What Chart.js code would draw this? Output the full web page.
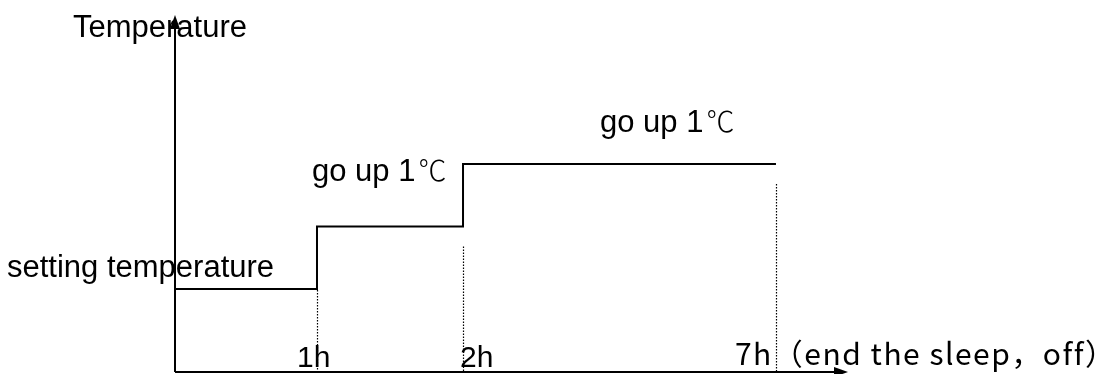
<!DOCTYPE html>
<html>
<head>
<meta charset="utf-8">
<script src="https://cdn.jsdelivr.net/npm/chart.js@4.4.0/dist/chart.umd.min.js"></script>
<style>
  html, body { margin: 0; padding: 0; background: #fff; }
  #wrap { width: 1101px; height: 374px; }
</style>
</head>
<body>
<div id="wrap"><canvas id="sleepChart" width="1101" height="374"></canvas></div>
<script>
// Sleep mode: +1℃ after the first hour, +1℃ after the second, held until 7h
const hours = [0, 1, 2, 7];
const tempRise = [0, 1, 2, 2];
const tickHours = [1, 2, 7];
const tickLabels = ['1h', '2h', '7h（end the sleep，off）'];
const stepLabels = ['go up 1', 'go up 1'];
const degreeSign = '℃';
const axisTitle = 'Temperature';
const baseLabel = 'setting temperature';

const LATIN = '"Liberation Sans", Arial, sans-serif';
const CJK = '"Noto Sans CJK SC", sans-serif';

// linear scale that is not drawn to proportion: hour -> axis fraction by knots
class SchematicScale extends Chart.LinearScale {
    static id = 'schematic';
    getPixelForValue(value) {
        const knots = this.options.knots;
        let i = 0;
        while (i < knots.length - 2 && value > knots[i + 1][0]) i++;
        const [h0, f0] = knots[i];
        const [h1, f1] = knots[i + 1];
        return this.getPixelForDecimal(f0 + (value - h0) / (h1 - h0) * (f1 - f0));
    }
}
Chart.register(SchematicScale);

function arrowHead(ctx, tipX, tipY, dir) {
    ctx.beginPath();
    if (dir === 'up') {
        ctx.moveTo(tipX, tipY);
        ctx.lineTo(tipX - 5, tipY + 14);
        ctx.lineTo(tipX + 5, tipY + 14);
    } else {
        ctx.moveTo(tipX, tipY);
        ctx.lineTo(tipX - 14, tipY - 5);
        ctx.lineTo(tipX - 14, tipY + 5);
    }
    ctx.closePath();
    ctx.fill();
}

const sketchPlugin = {
    id: 'sketch',
    beforeDatasetsDraw(chart) {
        const { ctx, chartArea: area, scales: { x, y } } = chart;
        ctx.save();
        ctx.fillStyle = '#000';
        ctx.textBaseline = 'alphabetic';

        // texts
        ctx.font = '31px ' + LATIN;
        ctx.fillText(axisTitle, area.left - 102, area.top + 20);
        ctx.fillText(baseLabel, 7, y.getPixelForValue(0) - 12);

        const stepAnchors = [
            [x.getPixelForValue(1) - 5, y.getPixelForValue(1) - 46],
            [x.getPixelForValue(2) + 137, y.getPixelForValue(2) - 32]
        ];
        stepLabels.forEach((txt, i) => {
            const [lx, ly] = stepAnchors[i];
            ctx.font = '31px ' + LATIN;
            ctx.fillText(txt, lx, ly);
            const w = ctx.measureText(txt).width;
            ctx.font = '300 28px ' + CJK;
            ctx.fillText(degreeSign, lx + w + 3, ly);
        });

        // [dx, baseline, family, size, letter spacing]
        const tickOffsets = [
            [-20, 367, LATIN, 30, 0],
            [-3, 367, LATIN, 30, 0],
            [-41, 365, CJK, 30, 1.5]
        ];
        tickHours.forEach((h, i) => {
            const [dx, by, fam, size, spacing] = tickOffsets[i];
            ctx.font = size + 'px ' + fam;
            ctx.letterSpacing = spacing + 'px';
            ctx.fillText(tickLabels[i], x.getPixelForValue(h) + dx, by);
        });
        ctx.letterSpacing = '0px';

        // dotted guides from each step down to the time axis
        const guideGap = [1, 20, 20];
        ctx.strokeStyle = '#000';
        ctx.lineWidth = 1.2;
        ctx.setLineDash([1.5, 1.5]);
        tickHours.forEach((h, i) => {
            const px = Math.round(x.getPixelForValue(h)) + 0.5;
            ctx.beginPath();
            ctx.moveTo(px, y.getPixelForValue(tempRise[i]) + guideGap[i]);
            ctx.lineTo(px, area.bottom);
            ctx.stroke();
        });
        ctx.restore();
    },
    afterDraw(chart) {
        const { ctx, chartArea: area } = chart;
        ctx.save();
        ctx.strokeStyle = '#000';
        ctx.fillStyle = '#000';
        ctx.lineWidth = 2;
        ctx.beginPath();
        ctx.moveTo(area.left, area.bottom);
        ctx.lineTo(area.left, area.top + 4);
        ctx.moveTo(area.left, area.bottom);
        ctx.lineTo(area.right - 4, area.bottom);
        ctx.stroke();
        arrowHead(ctx, area.left, area.top - 2, 'up');
        arrowHead(ctx, area.right + 1, area.bottom, 'right');
        ctx.restore();
    }
};

new Chart(document.getElementById('sleepChart'), {
    type: 'line',
    data: {
        datasets: [{
            label: 'Temperature',
            data: hours.map((h, i) => ({ x: h, y: tempRise[i] })),
            stepped: true,
            borderColor: '#000',
            borderWidth: 2,
            pointRadius: 0,
            fill: false
        }]
    },
    options: {
        responsive: false,
        animation: false,
        events: [],
        layout: { padding: { left: 175, right: 254, top: 17, bottom: 2 } },
        scales: {
            x: {
                type: 'schematic',
                display: false,
                min: 0,
                max: 8.7,
                knots: [[0, 0], [1, 0.2113], [2, 0.4286], [7, 0.8943], [8.7, 1]]
            },
            y: {
                type: 'linear',
                display: false,
                min: -1.328,
                max: 4.352
            }
        },
        plugins: {
            legend: { display: false },
            tooltip: { enabled: false }
        }
    },
    plugins: [sketchPlugin]
});
</script>
</body>
</html>
